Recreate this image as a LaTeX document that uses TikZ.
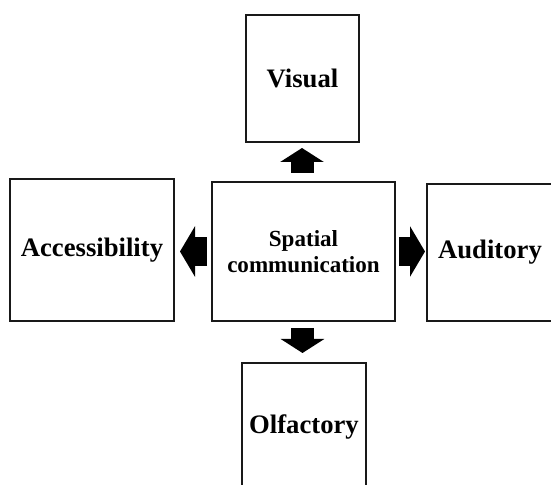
\documentclass[tikz,border=0pt]{standalone}
\usepackage{fontspec}
\setmainfont{Liberation Serif}
\usetikzlibrary{arrows.meta,calc}
\begin{document}
\begin{tikzpicture}[x=0.75pt,y=-0.75pt,
  box/.style={draw=black!90,line width=1.8pt,rectangle,inner sep=0pt,outer sep=0pt,
    font=\fontsize{20}{24}\selectfont\bfseries,align=center},
  hfat/.style={line width=29*0.75pt,-{Triangle[width=50*0.75pt,length=15*0.75pt]},black},
  vfat/.style={line width=23*0.75pt,-{Triangle[width=43*0.75pt,length=14*0.75pt]},black}]
\useasboundingbox (0,0) rectangle (551,485);
\clip (0,0) rectangle (551,485);
\node[box,minimum width=113*0.75pt,minimum height=127*0.75pt] (visual) at (302.5,78.5) {Visual};
\node[box,minimum width=164*0.75pt,minimum height=142*0.75pt] (access) at (92,250) {Accessibility};
\node[box,minimum width=183*0.75pt,minimum height=139*0.75pt,
  font=\fontsize{17.3}{19.5}\selectfont\bfseries] (center) at (303.5,251.5) {Spatial\\communication};
\node[box,minimum width=126*0.75pt,minimum height=137*0.75pt] (audit) at (490,252.5) {Auditory};
\node[box,minimum width=124*0.75pt,minimum height=127*0.75pt] (olfac) at (304,426.5) {Olfactory};
\draw[vfat,shorten <=9*0.75pt,shorten >=6*0.75pt] ([xshift=-1.5*0.75pt]center.north) -- ([xshift=-1.5*0.75pt]center.north |- visual.south);
\draw[vfat,shorten <=7*0.75pt,shorten >=10*0.75pt] ([xshift=-1*0.75pt]center.south) -- ([xshift=-1*0.75pt]center.south |- olfac.north);
\draw[hfat,shorten <=5*0.75pt,shorten >=6*0.75pt] (center.west) -- (center.west -| access.east);
\draw[hfat,shorten <=4*0.75pt,shorten >=2*0.75pt] (center.east) -- (center.east -| audit.west);
\end{tikzpicture}
\end{document}
